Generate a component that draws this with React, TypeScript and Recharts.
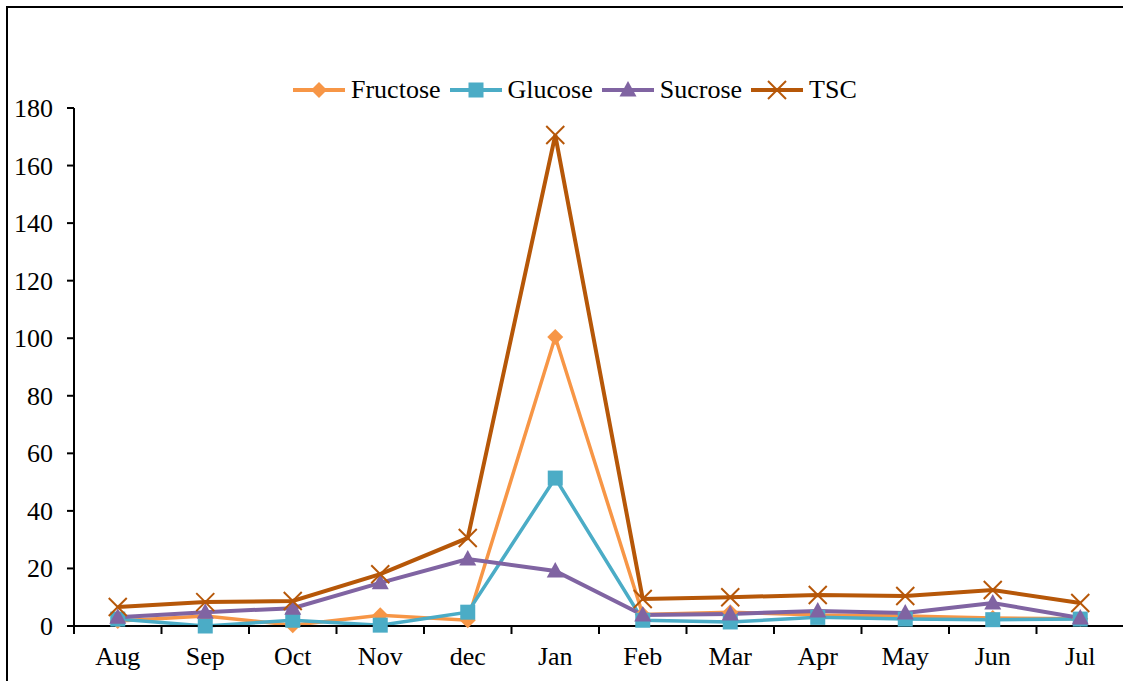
import { LineChart, Line, XAxis, YAxis } from 'recharts';

const months = ['Aug', 'Sep', 'Oct', 'Nov', 'dec', 'Jan', 'Feb', 'Mar', 'Apr', 'May', 'Jun', 'Jul'];
const fructose = [1.7, 3.5, 0.3, 3.7, 2.0, 100.4, 4.0, 4.8, 3.8, 3.5, 2.8, 2.5];
const glucose = [2.4, 0.0, 2.0, 0.3, 4.8, 51.4, 2.0, 1.4, 3.0, 2.4, 2.2, 2.4];
const sucrose = [3.0, 4.8, 6.2, 15.0, 23.3, 19.1, 3.8, 4.2, 5.2, 4.5, 8.0, 2.8];
const tsc = [6.6, 8.3, 8.7, 18.0, 30.6, 170.6, 9.4, 10.0, 10.8, 10.4, 12.5, 8.0];
const yTicks = [0, 20, 40, 60, 80, 100, 120, 140, 160, 180];

const data = months.map((m, i) => ({
    month: m,
    Fructose: fructose[i],
    Glucose: glucose[i],
    Sucrose: sucrose[i],
    TSC: tsc[i],
}));

const FONT = '"Liberation Serif", "Times New Roman", serif';
const BAND = 87.5;
const series = ['Fructose', 'Glucose', 'Sucrose', 'TSC'] as const;

const colors = {
    Fructose: '#F79646',
    Glucose: '#4BACC6',
    Sucrose: '#8064A2',
    TSC: '#B65708',
};

const Marker = ({ kind, cx, cy }: { kind: string; cx: number; cy: number }) => {
    const c = (colors as any)[kind];
    if (kind === 'Fructose') {
        return <polygon points={`${cx},${cy - 8} ${cx + 8},${cy} ${cx},${cy + 8} ${cx - 8},${cy}`} fill={c} />;
    }
    if (kind === 'Glucose') {
        return <rect x={cx - 7.5} y={cy - 7.5} width={15} height={15} fill={c} />;
    }
    if (kind === 'Sucrose') {
        return <polygon points={`${cx},${cy - 9} ${cx + 8.5},${cy + 6.5} ${cx - 8.5},${cy + 6.5}`} fill={c} />;
    }
    return (
        <g stroke={c} strokeWidth={2}>
            <line x1={cx - 9} y1={cy - 9} x2={cx + 9} y2={cy + 9} />
            <line x1={cx - 9} y1={cy + 9} x2={cx + 9} y2={cy - 9} />
        </g>
    );
};

const makeDot = (kind: string) => (props: any) => {
    const { cx, cy, index } = props;
    if (cx == null || cy == null) return <g key={index} />;
    return <Marker key={`${kind}-${index}`} kind={kind} cx={cx} cy={cy} />;
};

// ticks sit between the categories, like the spreadsheet chart
const MonthTick = (props: any) => {
    const { x, y, payload, index } = props;
    const top = y - 8;
    return (
        <g>
            <line x1={x - BAND / 2} y1={top} x2={x - BAND / 2} y2={top + 8} stroke="#000" strokeWidth={2} />
            {index === months.length - 1 && (
                <line x1={x + BAND / 2} y1={top} x2={x + BAND / 2} y2={top + 8} stroke="#000" strokeWidth={2} />
            )}
            <text x={x} y={y + 31} textAnchor="middle" fontFamily={FONT} fontSize={26} fill="#000">
                {payload.value}
            </text>
        </g>
    );
};

const ValueTick = (props: any) => {
    const { x, y, payload } = props;
    return (
        <text x={x} y={y + 9} textAnchor="end" fontFamily={FONT} fontSize={26} fill="#000">
            {payload.value}
        </text>
    );
};

const ChartLegend = () => (
    <div
        style={{
            position: 'absolute',
            left: 292,
            top: 75,
            display: 'flex',
            alignItems: 'center',
            fontFamily: FONT,
            fontSize: 26,
            color: '#000',
            whiteSpace: 'nowrap',
        }}
    >
        {series.map((k) => (
            <div key={k} style={{ display: 'flex', alignItems: 'center', marginRight: 8 }}>
                <svg width={54} height={20}>
                    <line x1={1} y1={10} x2={53} y2={10} stroke={colors[k]} strokeWidth={4} />
                    <Marker kind={k} cx={27} cy={10} />
                </svg>
                <span style={{ marginLeft: 5 }}>{k}</span>
            </div>
        ))}
    </div>
);

const App = () => {
    return (
        <div style={{ position: 'absolute', left: 0, top: 0, width: 1123, height: 681, overflow: 'hidden', background: '#fff' }}>
            <div
                style={{
                    position: 'absolute',
                    left: 6,
                    top: 6,
                    width: 1300,
                    height: 900,
                    border: '2px solid #000',
                }}
            />
            <div style={{ position: 'absolute', left: 0, top: 0 }}>
                <LineChart
                    width={1140}
                    height={681}
                    data={data}
                    margin={{ top: 108, right: 16, left: 0, bottom: 0 }}
                    style={{ fontFamily: FONT }}
                >
                    <XAxis
                        dataKey="month"
                        height={55}
                        padding={{ left: BAND / 2, right: BAND / 2 }}
                        axisLine={{ stroke: '#000', strokeWidth: 2 }}
                        tickLine={false}
                        tick={<MonthTick />}
                        interval={0}
                    />
                    <YAxis
                        width={74}
                        domain={[0, 180]}
                        ticks={yTicks}
                        interval={0}
                        axisLine={{ stroke: '#000', strokeWidth: 2 }}
                        tickLine={{ stroke: '#000', strokeWidth: 2 }}
                        tickSize={7}
                        tickMargin={14}
                        tick={<ValueTick />}
                    />
                    {series.map((k) => (
                        <Line
                            key={k}
                            type="linear"
                            dataKey={k}
                            stroke={colors[k]}
                            strokeWidth={k === 'TSC' || k === 'Sucrose' ? 4 : 3.5}
                            dot={makeDot(k)}
                            activeDot={false}
                            isAnimationActive={false}
                        />
                    ))}
                </LineChart>
            </div>
            <ChartLegend />
        </div>
    );
};

export default App;
